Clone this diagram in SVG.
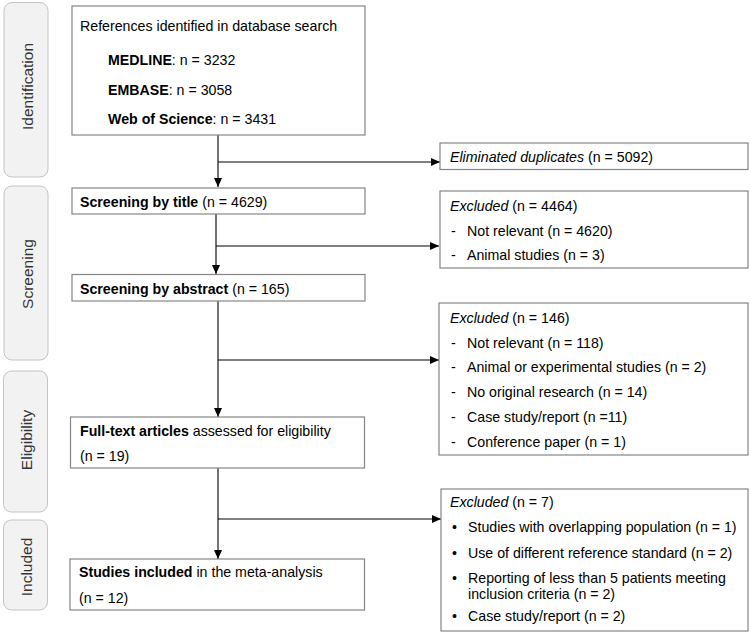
<svg xmlns="http://www.w3.org/2000/svg" width="750" height="633" viewBox="0 0 750 633">
<style>
text{font-family:"Liberation Sans",Arial,sans-serif;font-size:14.2px;fill:#000}
.stage rect{fill:#f2f2f2;stroke:#c4c4c4;stroke-width:1}
.stage text{font-size:15.5px;fill:#333;text-anchor:middle}
.box{fill:#fff;stroke:#858585;stroke-width:1.2}
.b{font-weight:bold}
.i{font-style:italic}
#connectors path{fill:none;stroke:#000;stroke-width:1.1}
</style>
<defs>
<marker id="ah" markerWidth="9" markerHeight="8" refX="9" refY="4" orient="auto" markerUnits="userSpaceOnUse">
<path d="M0,0 L9,4 L0,8 Z" fill="#000"/>
</marker>
</defs>
<rect width="750" height="633" fill="#fff"/>
<g id="stage-identification" class="stage"><rect x="4" y="2.5" width="44" height="174.5" rx="8"/><text transform="translate(32.7,86.5) rotate(-90)">Identification</text></g>
<g id="stage-screening" class="stage"><rect x="4" y="186" width="44" height="174" rx="8"/><text transform="translate(32.7,274) rotate(-90)">Screening</text></g>
<g id="stage-eligibility" class="stage"><rect x="3.5" y="371" width="44" height="141" rx="8"/><text transform="translate(32.2,440) rotate(-90)">Eligibility</text></g>
<g id="stage-included" class="stage"><rect x="3.5" y="520" width="44" height="90" rx="8"/><text transform="translate(32.2,567) rotate(-90)">Included</text></g>

<g id="connectors">
<path d="M218,135 V187" marker-end="url(#ah)"/>
<path d="M218,162 H440" marker-end="url(#ah)"/>
<path d="M216,214 V274" marker-end="url(#ah)"/>
<path d="M216,246 H439" marker-end="url(#ah)"/>
<path d="M218,301 V417" marker-end="url(#ah)"/>
<path d="M218,360 H439" marker-end="url(#ah)"/>
<path d="M218,468 V559" marker-end="url(#ah)"/>
<path d="M218,519 H441" marker-end="url(#ah)"/>
</g>

<g id="node-references"><rect class="box" x="72" y="6" width="293" height="129"/>
<text x="80" y="31">References identified in database search</text>
<text x="108" y="65"><tspan class="b">MEDLINE</tspan>: n = 3232</text>
<text x="108" y="94.5"><tspan class="b">EMBASE</tspan>: n = 3058</text>
<text x="108" y="124"><tspan class="b">Web of Science</tspan>: n = 3431</text>
</g>
<g id="node-duplicates"><rect class="box" x="440" y="143" width="308" height="26.5"/>
<text x="450" y="161.5"><tspan class="i">Eliminated duplicates</tspan> (n = 5092)</text></g>
<g id="node-title"><rect class="box" x="72" y="188" width="293" height="26"/>
<text x="80" y="207"><tspan class="b">Screening by title</tspan> (n = 4629)</text></g>
<g id="node-excl1"><rect class="box" x="440" y="191" width="308" height="77"/>
<text x="450" y="211"><tspan class="i">Excluded</tspan> (n = 4464)</text>
<text x="451" y="235.5">-</text><text x="467" y="235.5">Not relevant (n = 4620)</text>
<text x="451" y="260">-</text><text x="467" y="260">Animal studies (n = 3)</text>
</g>
<g id="node-abstract"><rect class="box" x="72" y="274.5" width="293" height="26.5"/>
<text x="80" y="294"><tspan class="b">Screening by abstract</tspan> (n = 165)</text></g>
<g id="node-excl2"><rect class="box" x="439" y="303" width="309" height="152"/>
<text x="450" y="323"><tspan class="i">Excluded</tspan> (n = 146)</text>
<text x="451" y="347.7">-</text><text x="467" y="347.7">Not relevant (n = 118)</text>
<text x="451" y="372.4">-</text><text x="467" y="372.4">Animal or experimental studies (n = 2)</text>
<text x="451" y="397.1">-</text><text x="467" y="397.1">No original research (n = 14)</text>
<text x="451" y="421.8">-</text><text x="467" y="421.8">Case study/report (n =11)</text>
<text x="451" y="446.5">-</text><text x="467" y="446.5">Conference paper (n = 1)</text>
</g>
<g id="node-fulltext"><rect class="box" x="70.5" y="417" width="294" height="51"/>
<text x="80" y="436"><tspan class="b">Full-text articles</tspan> assessed for eligibility</text>
<text x="80" y="461">(n = 19)</text></g>
<g id="node-excl3"><rect class="box" x="441" y="489" width="307" height="142"/>
<text x="450" y="507"><tspan class="i">Excluded</tspan> (n = 7)</text>
<text x="452" y="532">•</text><text x="468" y="532">Studies with overlapping population (n = 1)</text>
<text x="452" y="557.5">•</text><text x="468" y="557.5">Use of different reference standard (n = 2)</text>
<text x="452" y="582.5">•</text><text x="468" y="582.5">Reporting of less than 5 patients meeting</text>
<text x="468" y="599">inclusion criteria (n = 2)</text>
<text x="452" y="621">•</text><text x="468" y="621">Case study/report (n = 2)</text>
</g>
<g id="node-included"><rect class="box" x="70" y="559" width="294.5" height="51"/>
<text x="79" y="577"><tspan class="b">Studies included</tspan> in the meta-analysis</text>
<text x="79" y="603">(n = 12)</text></g>
</svg>
